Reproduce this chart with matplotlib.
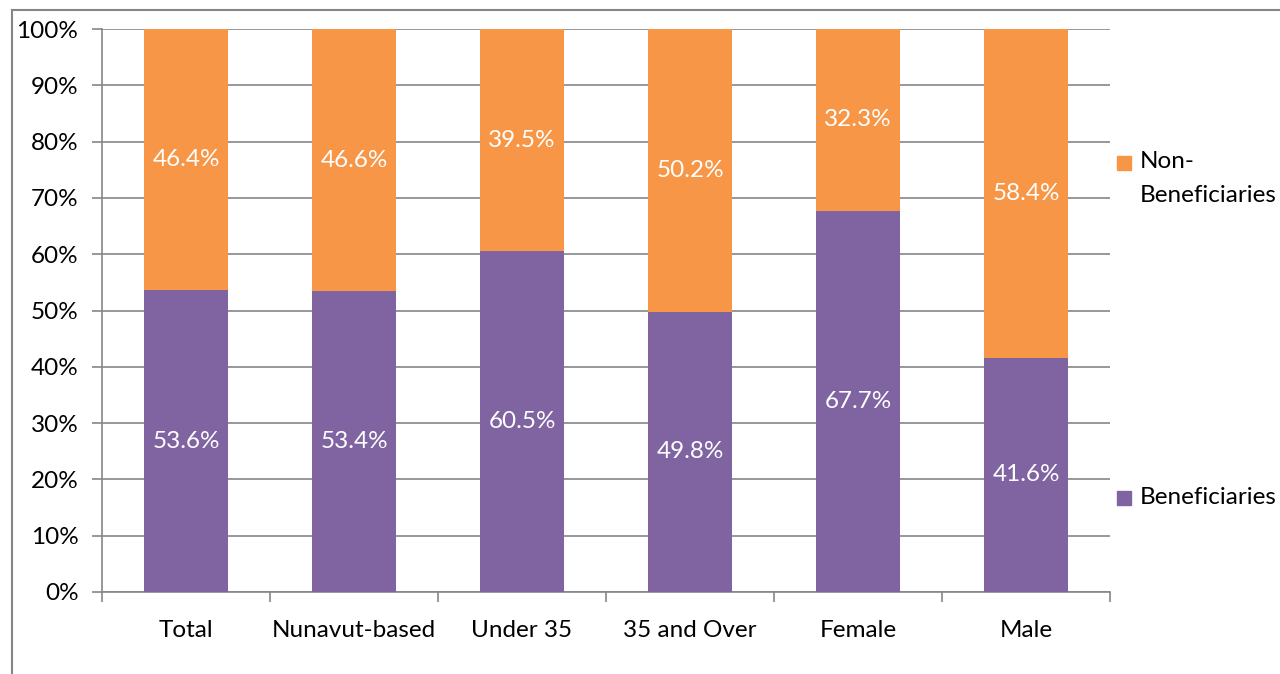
# Stacked share of beneficiaries vs non-beneficiaries by group

import numpy as np
import matplotlib.pyplot as plt
from matplotlib.lines import Line2D
from matplotlib.patches import Rectangle

plt.rcParams['font.family'] = ['Lato', 'DejaVu Sans']

groups = ['Total', 'Nunavut-based', 'Under 35', '35 and Over', 'Female', 'Male']
beneficiaries = [53.6, 53.4, 60.5, 49.8, 67.7, 41.6]
non_beneficiaries = [46.4, 46.6, 39.5, 50.2, 32.3, 58.4]
legend_labels = ['Non-\nBeneficiaries', 'Beneficiaries']

purple = '#8064A2'
orange = '#F79646'
grey = '#868686'
fs = 17.5

W, H = 1280, 674
fig = plt.figure(figsize=(12.8, 6.74), dpi=100)
ax = fig.add_axes([102/W, 1-592/H, (1110-102)/W, (592-29)/H])

x = np.arange(len(groups))
ax.bar(x, beneficiaries, width=0.5, color=purple, zorder=3)
ax.bar(x, non_beneficiaries, width=0.5, bottom=beneficiaries, color=orange, zorder=3)

# white value labels in the middle of each segment
for i in range(len(groups)):
    b = beneficiaries[i]
    n = non_beneficiaries[i]
    ax.text(x[i], b/2, f'{b:.1f}%', ha='center', va='center',
            color='white', fontsize=fs, zorder=4)
    ax.text(x[i], b + n/2, f'{n:.1f}%', ha='center', va='center',
            color='white', fontsize=fs, zorder=4)

ax.set_xlim(-0.5, len(groups)-0.5)
ax.set_ylim(0, 100)
ax.set_yticks(np.arange(0, 101, 10))
ax.set_yticklabels([f'{v}%' for v in range(0, 101, 10)])
ax.yaxis.grid(True, color=grey, linewidth=1.2, zorder=0)

ax.set_xticks(x)
ax.set_xticklabels(groups)
ax.set_xticks(np.arange(-0.5, len(groups), 1), minor=True)
ax.tick_params(axis='x', which='major', length=0, pad=20, labelsize=fs)
ax.tick_params(axis='x', which='minor', length=7, color=grey, width=1.2)
ax.tick_params(axis='y', length=7, color=grey, width=1.2, labelsize=fs, pad=10)

for s in ['top', 'right']:
    ax.spines[s].set_visible(False)
for s in ['left', 'bottom']:
    ax.spines[s].set_color(grey)
    ax.spines[s].set_linewidth(1.2)

# legend drawn by hand, entries spread apart
fig.patches.append(Rectangle((1117/W, 1-170/H), 14/W, 14/H,
                             transform=fig.transFigure, color=orange))
fig.text(1140/W, 1-151/H, legend_labels[0], fontsize=fs, va='top',
         linespacing=1.75)
fig.patches.append(Rectangle((1117/W, 1-505/H), 14/W, 14/H,
                             transform=fig.transFigure, color=purple))
fig.text(1140/W, 1-498/H, legend_labels[1], fontsize=fs, va='center')

# outer chart frame
fig.lines.append(Line2D([12/W, 1], [1-10/H, 1-10/H], transform=fig.transFigure,
                        color=grey, linewidth=1.5))
fig.lines.append(Line2D([12/W, 12/W], [0, 1-10/H], transform=fig.transFigure,
                        color=grey, linewidth=1.5))

fig.savefig('out.png', dpi=100)
